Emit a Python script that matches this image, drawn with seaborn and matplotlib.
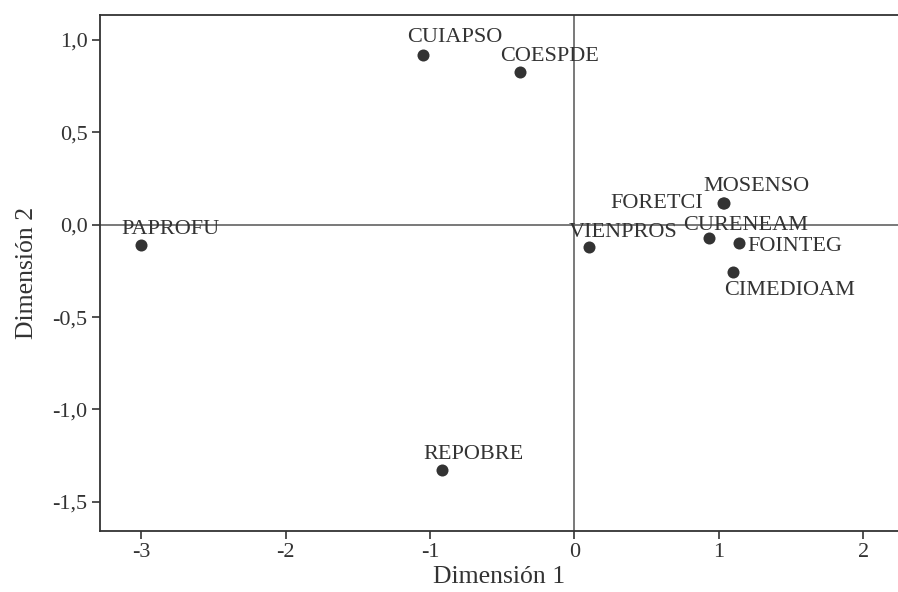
import matplotlib
matplotlib.use("Agg")
import matplotlib.pyplot as plt
import seaborn as sns
import pandas as pd

labels = ["PAPROFU", "CUIAPSO", "COESPDE", "REPOBRE", "VIENPROS",
          "MOSENSO", "FORETCI", "CURENEAM", "FOINTEG", "CIMEDIOAM"]
dim1 = [-3.00, -1.05, -0.377, -0.918, 0.10, 1.035, 1.03, 0.93, 1.14, 1.097]
dim2 = [-0.11, 0.919, 0.827, -1.328, -0.119, 0.117, 0.115, -0.072, -0.099, -0.256]
xticks = [-3, -2, -1, 0, 1, 2]
yticks = [1.0, 0.5, 0.0, -0.5, -1.0, -1.5]
ytick_labels = ["1,0", "0,5", "0,0", "-0,5", "-1,0", "-1,5"]

df = pd.DataFrame({"label": labels, "Dimensión 1": dim1, "Dimensión 2": dim2})

# label placement (offset in pixels, horizontal alignment)
offsets = {
    "PAPROFU": (-20, 16, "left"),
    "CUIAPSO": (-16, 17, "left"),
    "COESPDE": (-20, 15, "left"),
    "REPOBRE": (-19, 16, "left"),
    "VIENPROS": (-20, 14, "left"),
    "MOSENSO": (-21, 17, "left"),
    "FORETCI": (-20, 0, "right"),
    "CURENEAM": (-26, 13, "left"),
    "FOINTEG": (8, -3, "left"),
    "CIMEDIOAM": (-9, -18, "left"),
}

sns.set_theme(style="white")
plt.rcParams["font.family"] = ["Liberation Serif", "DejaVu Serif"]
ink = "#333333"

fig = plt.figure(figsize=(8.98, 5.92), dpi=100)
ax = fig.add_axes([100 / 898, 1 - 530.5 / 592, 1 - 100 / 898, (530.5 - 15) / 592])

ax.axhline(0, color="#555555", lw=1.1, zorder=1)
ax.axvline(0, color="#555555", lw=1.1, zorder=1)

sns.scatterplot(data=df, x="Dimensión 1", y="Dimensión 2", ax=ax,
                color=ink, s=75, edgecolor=ink, linewidth=0, zorder=3)

for lab, x, y in zip(labels, dim1, dim2):
    dx, dy, ha = offsets[lab]
    ax.annotate(lab, (x, y), xytext=(dx, dy), textcoords="offset pixels",
                ha=ha, va="center", fontsize=16, color=ink, zorder=4)

ax.set_xlim(-3.285, 2.24)
ax.set_ylim(-1.655, 1.135)
ax.set_xticks(xticks)
ax.set_xticklabels([str(t) for t in xticks])
ax.set_yticks(yticks)
ax.set_yticklabels(ytick_labels)

for side in ["left", "bottom", "top"]:
    ax.spines[side].set_visible(True)
    ax.spines[side].set_color(ink)
    ax.spines[side].set_linewidth(1.3)
ax.spines["right"].set_visible(False)

ax.tick_params(axis="both", which="major", direction="out", length=6, width=1.2,
               color=ink, labelcolor=ink, labelsize=16, pad=3,
               bottom=True, left=True)
ax.set_xlabel("Dimensión 1", fontsize=18.5, color=ink, labelpad=3)
ax.set_ylabel("Dimensión 2", fontsize=18.5, color=ink, labelpad=10.5)

fig.savefig("out.png", dpi=100)
